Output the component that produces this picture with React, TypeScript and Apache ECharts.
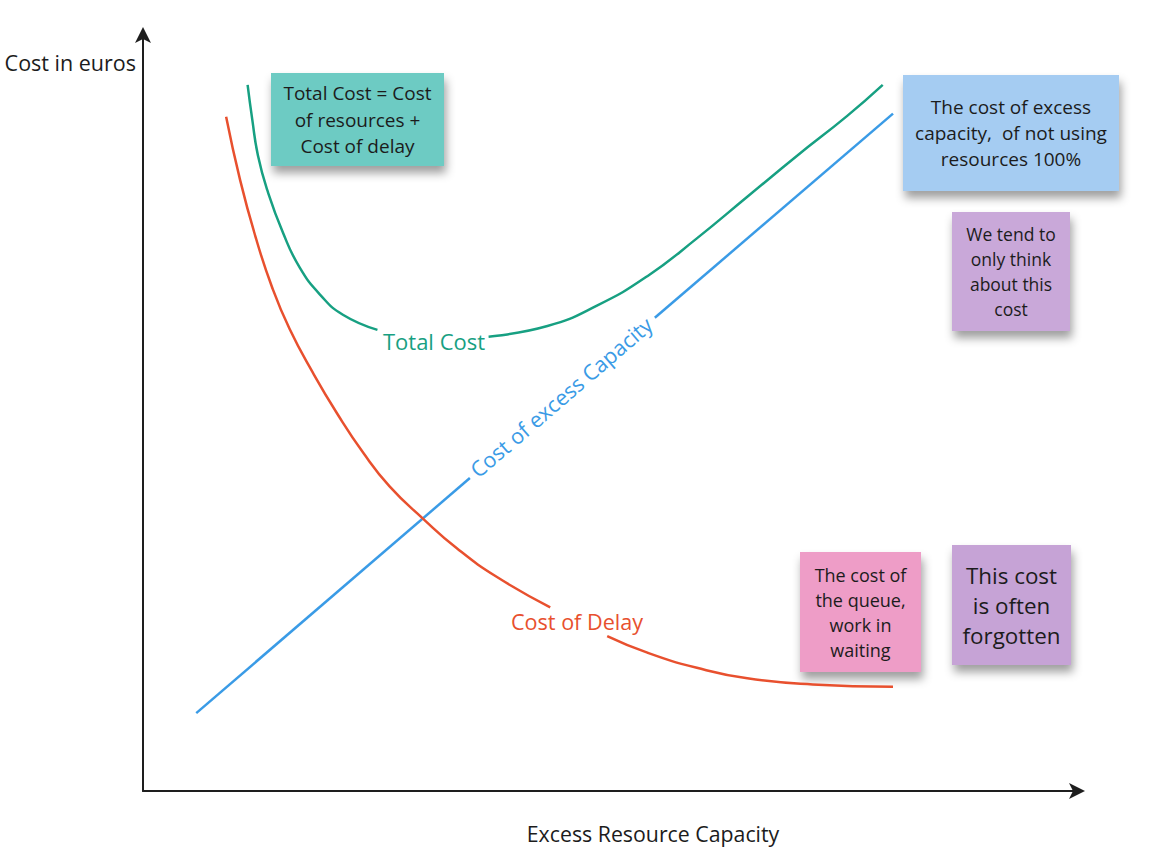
import React, { useEffect, useRef } from "react";
import * as echarts from "echarts";

// Cost of excess capacity (straight line), split where its label sits
const excessLower: number[][] = [[5.7, 10.3], [35.0, 41.4]];
const excessUpper: number[][] = [[54.8, 62.6], [80.3, 89.6]];

// Total cost curve, split around its label
const totalLeft: number[][] = [
  [11.2, 93.4], [11.7, 88.8], [12.3, 84.1], [13.3, 79.5], [15.0, 73.8],
  [16.8, 69.2], [19.0, 65.6], [21.4, 63.0], [25.1, 61.0],
];
const totalRight: number[][] = [
  [37.0, 60.1], [43.3, 61.5], [48.6, 64.2], [54.0, 68.1], [59.3, 73.1],
  [64.7, 78.6], [70.0, 84.0], [75.4, 89.3], [79.2, 93.4],
];

// Cost of delay curve, split around its label
const delayUpper: number[][] = [
  [8.9, 89.2], [10.4, 80.8], [12.0, 73.5], [13.8, 66.7], [15.7, 61.1],
  [18.2, 55.3], [20.8, 49.9], [23.6, 44.7], [26.4, 40.3], [30.0, 36.0],
  [33.6, 32.1], [37.9, 28.3], [43.6, 24.3],
];
const delayLower: number[][] = [
  [49.7, 20.5], [54.0, 18.3], [59.3, 16.3], [64.7, 14.9], [71.7, 14.1], [80.3, 13.8],
];

const axisTitles = { x: "Excess Resource Capacity", y: "Cost in euros" };
const curveLabels = {
  total: "Total Cost",
  delay: "Cost of Delay",
  excess: "Cost of excess Capacity",
};
const noteTexts = [
  "Total Cost = Cost\nof resources +\nCost of delay",
  "The cost of excess\ncapacity,  of not using\nresources 100%",
  "We tend to\nonly think\nabout this\ncost",
  "The cost of\nthe queue,\nwork in\nwaiting",
  "This cost\nis often\nforgotten",
];

const FONT = '"Open Sans", "Noto Sans", sans-serif';
const GREEN = "#17a082";
const RED = "#e8502e";
const BLUE = "#3a9be6";

function note(
  x: number, y: number, w: number, h: number, fill: string, text: string,
  fontSize: number, lineHeight: number
) {
  return {
    type: "group",
    children: [
      {
        type: "rect",
        shape: { x, y, width: w, height: h },
        style: {
          fill,
          shadowBlur: 10,
          shadowOffsetX: 2,
          shadowOffsetY: 7,
          shadowColor: "rgba(0,0,0,0.38)",
        },
      },
      {
        type: "text",
        x: x + w / 2,
        y: y + h / 2,
        style: {
          text,
          fill: "#1c1c1c",
          font: `${fontSize}px ${FONT}`,
          align: "center",
          verticalAlign: "middle",
          lineHeight,
        },
      },
    ],
  };
}

function lineSeries(data: number[][], color: string) {
  return {
    type: "line",
    data,
    smooth: 0.5,
    symbol: "none",
    silent: true,
    lineStyle: { color, width: 2.5 },
  };
}

export default function App() {
  const ref = useRef<HTMLDivElement>(null);
  useEffect(() => {
    if (!ref.current) return;
    const chart = echarts.init(ref.current, undefined, { renderer: "svg" });
    const axisLine = {
      show: true,
      symbol: ["none", "arrow"],
      symbolSize: [12, 16],
      symbolOffset: [0, 8],
      lineStyle: { color: "#1e1e1e", width: 2 },
    };
    chart.setOption({
      animation: false,
      backgroundColor: "#ffffff",
      grid: { left: 143, right: 75, top: 35, bottom: 76 },
      xAxis: {
        type: "value",
        min: 0,
        max: 100,
        axisLine,
        axisTick: { show: false },
        axisLabel: { show: false },
        splitLine: { show: false },
      },
      yAxis: {
        type: "value",
        min: 0,
        max: 100,
        axisLine,
        axisTick: { show: false },
        axisLabel: { show: false },
        splitLine: { show: false },
      },
      series: [
        lineSeries(excessLower, BLUE),
        lineSeries(excessUpper, BLUE),
        lineSeries(totalLeft, GREEN),
        lineSeries(totalRight, GREEN),
        lineSeries(delayUpper, RED),
        lineSeries(delayLower, RED),
      ],
      graphic: [
        {
          type: "text",
          x: 136,
          y: 62,
          style: {
            text: axisTitles.y,
            fill: "#1c1c1c",
            font: `21.5px ${FONT}`,
            align: "right",
            verticalAlign: "middle",
          },
        },
        {
          type: "text",
          x: 653,
          y: 833,
          style: {
            text: axisTitles.x,
            fill: "#1c1c1c",
            font: `21.3px ${FONT}`,
            align: "center",
            verticalAlign: "middle",
          },
        },
        {
          type: "text",
          x: 434,
          y: 341,
          style: {
            text: curveLabels.total,
            fill: GREEN,
            font: `22px ${FONT}`,
            align: "center",
            verticalAlign: "middle",
          },
        },
        {
          type: "text",
          x: 577,
          y: 621,
          style: {
            text: curveLabels.delay,
            fill: RED,
            font: `21.6px ${FONT}`,
            align: "center",
            verticalAlign: "middle",
          },
        },
        {
          type: "text",
          x: 561,
          y: 397,
          rotation: (40.7 * Math.PI) / 180,
          style: {
            text: curveLabels.excess,
            fill: BLUE,
            font: `21.5px ${FONT}`,
            align: "center",
            verticalAlign: "middle",
          },
        },
        note(271, 73, 173, 93, "#6dcbc3", noteTexts[0], 19, 26.5),
        note(903, 75, 216, 116, "#a5ccf2", noteTexts[1], 19, 26),
        note(952, 212, 118, 119, "#c9a8d9", noteTexts[2], 17.5, 25),
        note(800, 552, 121, 120, "#ee9dc7", noteTexts[3], 18, 25),
        note(952, 545, 119, 120, "#c6a3d6", noteTexts[4], 22.4, 30),
      ],
    });
    return () => chart.dispose();
  }, []);
  return (
    <div
      ref={ref}
      style={{ position: "fixed", left: 0, top: 0, width: 1152, height: 867 }}
    />
  );
}
